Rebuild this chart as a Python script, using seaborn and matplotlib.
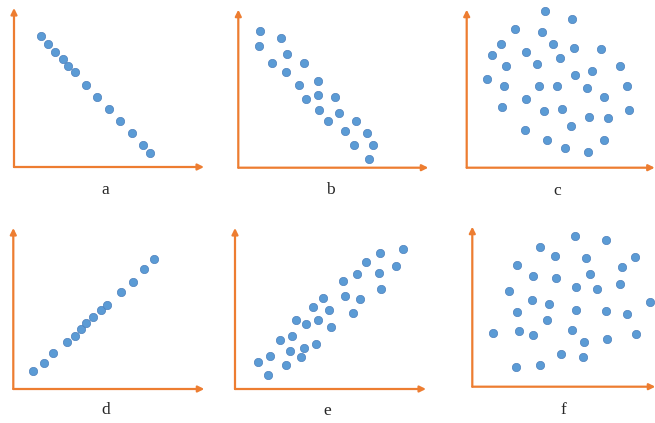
import matplotlib
matplotlib.use("Agg")
import matplotlib.pyplot as plt
import seaborn as sns

# --- point data for each panel (x, y measured from the axis corner) ---
a_x = [26.7, 34.3, 41.3, 48.7, 54.3, 61.3, 72, 83.3, 94.7, 106.3, 117.7, 129, 136.3]
a_y = [131, 123, 115.3, 107.7, 101.3, 94.7, 82.3, 70.3, 58.3, 46.3, 34.3, 22, 14.3]

b_x = [21.4, 42.4, 21.0, 48.4, 34, 66, 48, 79.7, 61, 79.7, 97, 68, 81, 100.4,
       89.7, 117.4, 106.7, 128.7, 115.4, 134.7, 130.7]
b_y = [137, 129.4, 121.4, 113.7, 105, 105, 96, 86.7, 82.7, 72.4, 71, 68.7, 58, 54.7,
       46.7, 47, 36.7, 35, 22.7, 23, 9]

c_x = [78.6, 105.3, 48.3, 75.3, 34, 86.6, 107, 134, 59.3, 25.6, 93.6, 70.6, 39.6,
       153, 125.6, 108.3, 20, 37.3, 72.3, 90.3, 120, 160.3, 137, 59, 35.3, 77.3,
       95, 162.3, 122, 141, 104, 58.3, 80.6, 137.6, 98.3, 121.6]
c_y = [156.4, 149, 138.7, 135.4, 123.4, 123.4, 120, 119, 115.7, 112.4, 110, 103.7,
       101.7, 101.7, 97, 92.4, 88.7, 81.4, 82, 82, 79.4, 82, 71, 68.7, 61, 57, 58.4,
       57.7, 50.7, 49.4, 42, 37.4, 27.7, 28, 19.7, 15.7]

d_x = [20, 30.4, 40, 53.7, 61.4, 67.4, 73, 79.7, 87.4, 93.7, 107.7, 119.4, 130.4, 141]
d_y = [17.7, 26.3, 36.3, 47, 52.7, 59.7, 66, 72, 79.3, 84.3, 96.7, 106.7, 119.7, 130]

e_x = [168, 145, 130.7, 161.3, 121.7, 144, 107.7, 145.7, 87.7, 109.7, 125.3, 78.3,
       94.3, 117.7, 61, 71, 82.7, 95.7, 57.3, 44.7, 81.3, 69, 55.3, 34.7, 66, 23,
       51, 32.7]
e_y = [140.3, 136, 126.7, 123, 114.7, 115.7, 107.7, 99.7, 90.7, 92.7, 90, 82, 79,
       76.3, 69, 65.3, 69, 62.3, 53, 48.7, 44.7, 41, 37.7, 33, 31.7, 27, 24, 14.3]

f_x = [102.7, 133.7, 67.4, 83, 113.4, 163, 44.7, 150, 61, 83.7, 118, 103.7, 124.4,
       147.7, 36.7, 59.4, 76.4, 177.4, 44.4, 103.7, 133.7, 154.7, 74.4, 21, 46.4,
       61, 100, 163.7, 111.4, 135, 89, 111, 43.7, 67.7]
f_y = [150.4, 146.7, 139.7, 130.7, 128.7, 130, 121.4, 119.7, 110.7, 108.7, 112.7,
       99.7, 97.4, 102.4, 96, 86.7, 82.7, 84.7, 75, 77, 76, 73, 67, 54, 55.4, 52,
       56.7, 53, 44.4, 47.4, 32.4, 29.7, 19.4, 21.4]

labels = ["a", "b", "c", "d", "e", "f"]

W, H = 655, 423
sns.set_style("white")
fig = plt.figure(figsize=(W / 100, H / 100), dpi=100)

# corner (image px, top-left origin), arrow lengths, label position
panels = [
    (a_x, a_y, (14, 167), 190, 159, (105, 190)),
    (b_x, b_y, (238.3, 167.7), 190, 158, (330, 190)),
    (c_x, c_y, (466.7, 167.7), 188, 158, (557, 191)),
    (d_x, d_y, (13.3, 389), 191, 161, (106, 410)),
    (e_x, e_y, (235, 389), 191, 161, (327, 411)),
    (f_x, f_y, (472.3, 386.7), 183, 160, (563, 410)),
]

orange = "#ED7D31"
for (xs, ys, (cx, cy), w, h, (lx, ly)), lab in zip(panels, labels):
    ax = fig.add_axes([cx / W, (H - cy) / H, w / W, h / H])
    ax.set_xlim(0, w)
    ax.set_ylim(0, h)
    ax.axis("off")
    for tip in [(1, 0), (0, 1)]:
        ax.annotate("", xy=tip, xytext=(0, 0), xycoords="axes fraction",
                    arrowprops=dict(arrowstyle="-|>", color=orange, lw=1.6,
                                    mutation_scale=9, shrinkA=0, shrinkB=0))
    sns.scatterplot(x=xs, y=ys, ax=ax, s=36, color="#5B9BD5",
                    edgecolor="#4F81BD", linewidth=0.5, clip_on=False, legend=False)
    fig.text(lx / W, 1 - ly / H, lab, ha="center", va="center",
             fontsize=12.5, family="Liberation Serif")

fig.savefig("out.png", dpi=100)
